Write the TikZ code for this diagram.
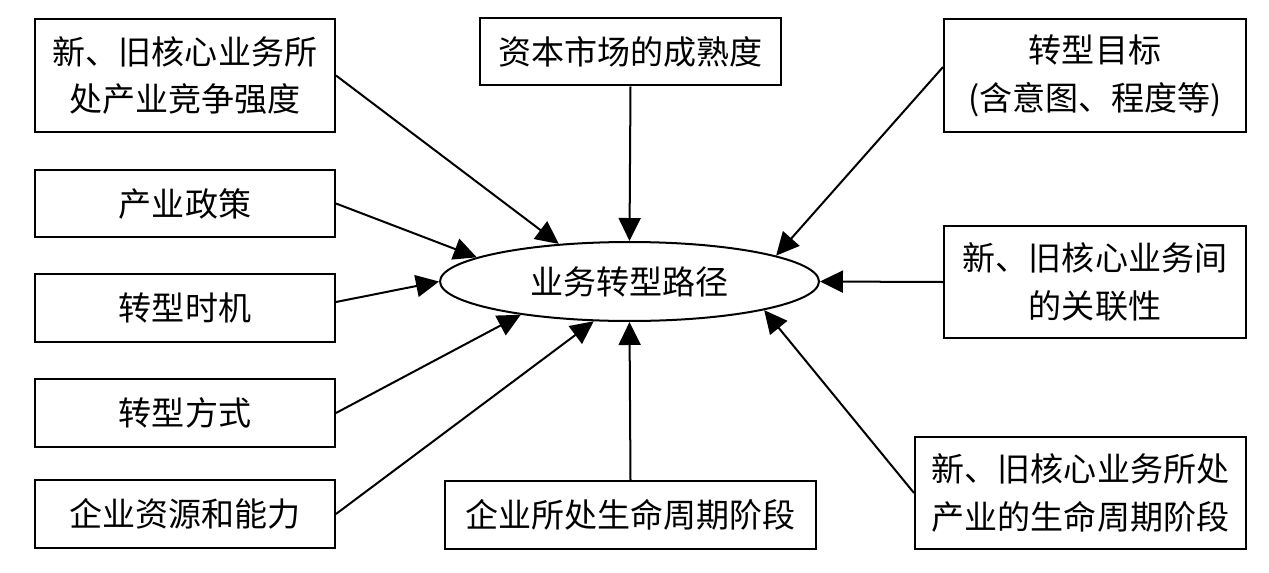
\documentclass[tikz,border=0pt]{standalone}
\usepackage{fontspec}
\setmainfont{Noto Sans CJK SC}
\usetikzlibrary{arrows.meta,shapes.geometric}
\begin{document}
\begin{tikzpicture}[x=0.02cm,y=-0.02cm,
  txt/.style={font=\fontsize{18.8}{27.3}\selectfont},
  box/.style={txt,draw,line width=1.14pt,minimum width=6cm,minimum height=1.36cm,align=center,inner sep=0pt},
  tall/.style={minimum height=2.26cm},
  conn/.style={line width=1.14pt,-{Triangle[length=0.46cm,width=0.44cm]}}]
\useasboundingbox (0,0) rectangle (1269,572);
% left column
\node[box,tall] (A) at (185,75.5) {新、旧核心业务所\\处产业竞争强度};
\node[box] (D) at (185,203.5) {产业政策};
\node[box] (E) at (185,308) {转型时机};
\node[box] (F) at (185,413) {转型方式};
\node[box] (G) at (185,514) {企业资源和能力};
% middle
\node[box,minimum width=6.02cm] (B) at (630.5,51.5) {资本市场的成熟度};
\node[box,minimum width=7.42cm] (I) at (630.5,515) {企业所处生命周期阶段};
% right column
\node[box,tall,minimum width=6.04cm] (C) at (1095,75.5) {转型目标\\(含意图、程度等)};
\node[box,tall,minimum width=6.04cm] (H) at (1095,282) {新、旧核心业务间\\的关联性};
\node[box,tall,minimum width=6.62cm] (J) at (1080.5,493) {新、旧核心业务所处\\产业的生命周期阶段};
% centre
\node[txt,draw,ellipse,line width=1.14pt,minimum width=7.58cm,minimum height=1.58cm,inner sep=0pt] (P) at (629.5,281.5) {业务转型路径};
% connectors
\draw[conn] (A.east) -- (P.152.7);
\draw[conn] (B.south) -- (P.north);
\draw[conn] ([yshift=0.17cm]C.west) -- (P.10.9);
\draw[conn] (D.east) -- (P.171.4);
\draw[conn] ([yshift=0.12cm]E.east) -- (P.west);
\draw[conn] (F.east) -- (P.197.9);
\draw[conn] (G.east) -- (P.228.4);
\draw[conn] (H.west) -- (P.east);
\draw[conn] (I.north) -- (P.south);
\draw[conn] (J.west) -- (P.348.9);
\end{tikzpicture}
\end{document}
